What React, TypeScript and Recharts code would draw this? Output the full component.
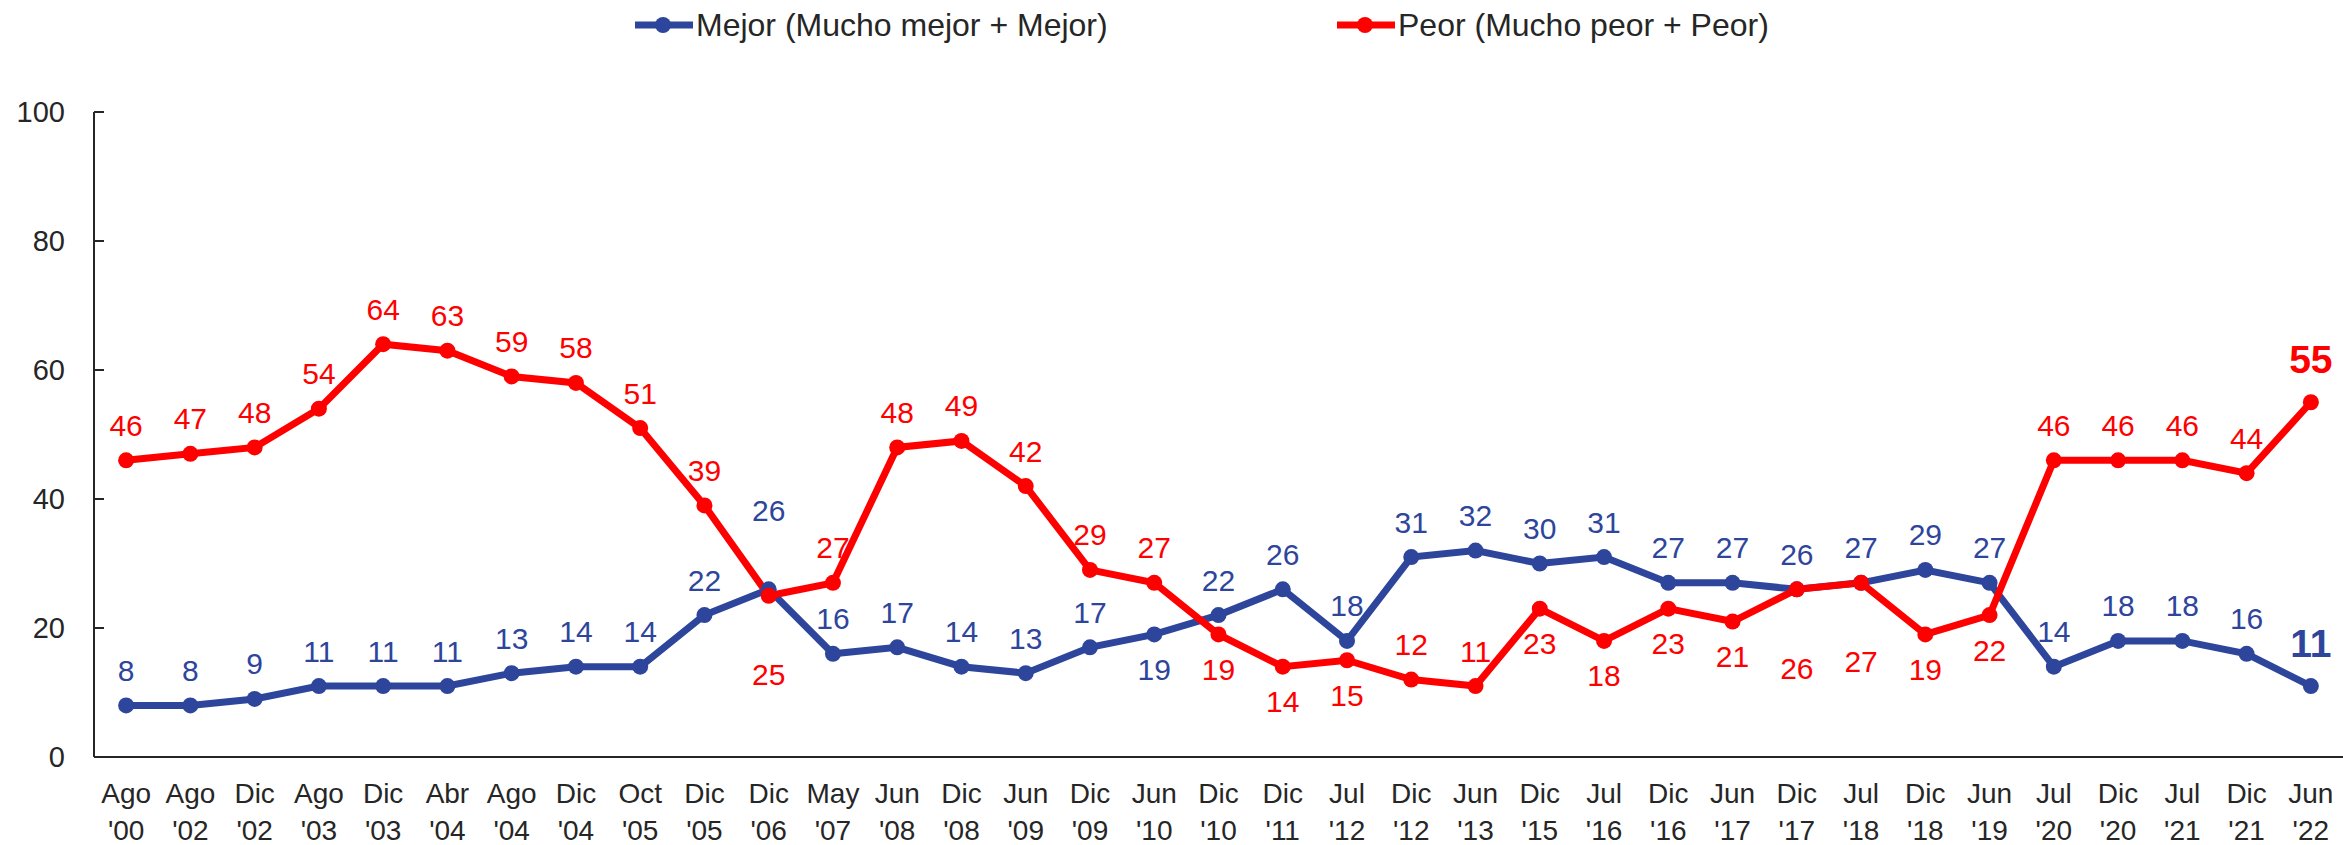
import { CartesianGrid, LabelList, Legend, Line, LineChart, XAxis, YAxis } from "recharts";

const categories = [
   "Ago '00", "Ago '02", "Dic '02", "Ago '03", "Dic '03", "Abr '04", "Ago '04", "Dic '04", "Oct '05",
   "Dic '05", "Dic '06", "May '07", "Jun '08", "Dic '08", "Jun '09", "Dic '09", "Jun '10", "Dic '10",
   "Dic '11", "Jul '12", "Dic '12", "Jun '13", "Dic '15", "Jul '16", "Dic '16", "Jun '17", "Dic '17",
   "Jul '18", "Dic '18", "Jun '19", "Jul '20", "Dic '20", "Jul '21", "Dic '21", "Jun '22",
];

const mejor = [
   8, 8, 9, 11, 11, 11, 13, 14, 14, 22, 26, 16, 17, 14, 13, 17, 19, 22, 26, 18, 31, 32, 30, 31, 27, 27,
   26, 27, 29, 27, 14, 18, 18, 16, 11,
];

const peor = [
   46, 47, 48, 54, 64, 63, 59, 58, 51, 39, 25, 27, 48, 49, 42, 29, 27, 19, 14, 15, 12, 11, 23, 18, 23, 21,
   26, 27, 19, 22, 46, 46, 46, 44, 55,
];

const yTicks = [0, 20, 40, 60, 80, 100];

const data = categories.map((c, i) => ({ cat: c, mejor: mejor[i], peor: peor[i] }));

const BLUE = "#2E459C";
const RED = "#FF0000";
const TEXT = "#262626";
const FONT = "'Liberation Sans', Arial, sans-serif";

// label placement: which points get their label under the point, or pushed further out
const mejorBelow = new Set([16]);
const mejorFar = new Set([10]);
const peorBelow = new Set([10, 17, 18, 19, 22, 23, 24, 25, 26, 27, 28, 29]);
const peorFar = new Set([10, 26, 27]);
const last = categories.length - 1;

function makeLabel(color: string, below: Set<number>, far: Set<number>) {
   return (props: any) => {
      const { x, y, value, index } = props;
      const isLast = index === last;
      const dist = isLast ? 43 : far.has(index) ? 79 : 35;
      const dy = below.has(index) ? dist : -dist;
      return (
         <text
            x={x}
            y={y + dy}
            textAnchor="middle"
            dominantBaseline="central"
            fill={color}
            fontFamily={FONT}
            fontSize={isLast ? 39 : 30}
            fontWeight={isLast ? "bold" : "normal"}
         >
            {value}
         </text>
      );
   };
}

function XTick(props: any) {
   const { x, y, payload } = props;
   const [m, yr] = String(payload.value).split(" ");
   return (
      <g>
         <text x={x} y={y + 46} textAnchor="middle" fill={TEXT} fontFamily={FONT} fontSize={28}>
            {m}
         </text>
         <text x={x} y={y + 83} textAnchor="middle" fill={TEXT} fontFamily={FONT} fontSize={28}>
            {yr}
         </text>
      </g>
   );
}

function YTick(props: any) {
   const { x, y, payload } = props;
   return (
      <g>
         <line x1={x} y1={y} x2={x + 10} y2={y} stroke={TEXT} strokeWidth={2} />
         <text
            x={x - 29}
            y={y}
            textAnchor="end"
            dominantBaseline="central"
            fill={TEXT}
            fontFamily={FONT}
            fontSize={29}
         >
            {payload.value}
         </text>
      </g>
   );
}

function LegendContent() {
   const item = (left: number, color: string, label: string) => (
      <div style={{ position: "absolute", left, top: 0, height: 50, display: "flex", alignItems: "center" }}>
         <svg width={58} height={20}>
            <line x1={0} y1={10} x2={58} y2={10} stroke={color} strokeWidth={7} />
            <circle cx={28} cy={10} r={8} fill={color} />
         </svg>
         <span style={{ marginLeft: 3, fontFamily: FONT, fontSize: 32, color: TEXT, lineHeight: "50px" }}>
            {label}
         </span>
      </div>
   );
   return (
      <div style={{ position: "relative", width: 2343, height: 50 }}>
         {item(635, BLUE, "Mejor (Mucho mejor + Mejor)")}
         {item(1337, RED, "Peor (Mucho peor + Peor)")}
      </div>
   );
}

export default function App() {
   return (
      <div style={{ position: "absolute", left: 0, top: 0, width: 2343, height: 845, background: "#fff" }}>
         <LineChart width={2343} height={845} data={data} margin={{ top: 62, right: 0, bottom: 0, left: 0 }}>
            <CartesianGrid horizontal={false} vertical={false} />
            <Legend
               verticalAlign="top"
               align="left"
               content={<LegendContent />}
               wrapperStyle={{ top: 0, left: 0, width: 2343, height: 50 }}
            />
            <XAxis
               dataKey="cat"
               scale="band"
               interval={0}
               tickLine={false}
               tickSize={0}
               tickMargin={0}
               axisLine={{ stroke: TEXT, strokeWidth: 2 }}
               tick={<XTick />}
               height={88}
            />
            <YAxis
               domain={[0, 100]}
               ticks={yTicks}
               width={94}
               tickLine={false}
               tickSize={0}
               tickMargin={0}
               axisLine={{ stroke: TEXT, strokeWidth: 2 }}
               tick={<YTick />}
               allowDataOverflow
            />
            <Line
               dataKey="mejor"
               stroke={BLUE}
               strokeWidth={7}
               dot={{ r: 8, fill: BLUE, stroke: BLUE, strokeWidth: 0 }}
               activeDot={false}
               isAnimationActive={false}
            >
               <LabelList dataKey="mejor" content={makeLabel(BLUE, mejorBelow, mejorFar)} />
            </Line>
            <Line
               dataKey="peor"
               stroke={RED}
               strokeWidth={7}
               dot={{ r: 8, fill: RED, stroke: RED, strokeWidth: 0 }}
               activeDot={false}
               isAnimationActive={false}
            >
               <LabelList dataKey="peor" content={makeLabel(RED, peorBelow, peorFar)} />
            </Line>
         </LineChart>
      </div>
   );
}
